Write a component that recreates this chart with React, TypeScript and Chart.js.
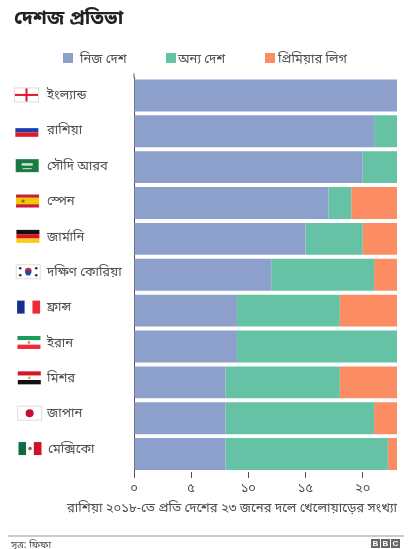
import { useEffect, useRef } from 'react';
import Chart from 'chart.js/auto';

const countries = ['ইংল্যান্ড', 'রাশিয়া', 'সৌদি আরব', 'স্পেন', 'জার্মানি', 'দক্ষিণ কোরিয়া', 'ফ্রান্স', 'ইরান', 'মিশর', 'জাপান', 'মেক্সিকো'];
const flagCodes = ['eng', 'rus', 'ksa', 'esp', 'ger', 'kor', 'fra', 'irn', 'egy', 'jpn', 'mex'];
const homeLeague = [23, 21, 20, 17, 15, 12, 9, 9, 8, 8, 8];
const otherLeague = [0, 2, 3, 2, 5, 9, 9, 14, 10, 13, 14.2];
const premierLeague = [0, 0, 0, 4, 3, 2, 5, 0, 5, 2, 0.8];
const seriesNames = ['নিজ দেশ', 'অন্য দেশ', 'প্রিমিয়ার লিগ'];
const seriesColors = ['#8DA0CB', '#66C2A5', '#FC8D62'];
const bengaliDigits = ['০', '১', '২', '৩', '৪', '৫', '৬', '৭', '৮', '৯'];
const caption = 'রাশিয়া ২০১৮-তে প্রতি দেশের ২৩ জনের দলে খেলোয়াড়ের সংখ্যা';

const FONT = '"Noto Sans", "Noto Sans Bengali", "Lohit Bengali", sans-serif';
const TEXT = '#505050';

function toBengali(n: number) {
  return String(n).split('').map(d => bengaliDigits[Number(d)]).join('');
}

function drawFlag(ctx: CanvasRenderingContext2D, code: string, x: number, y: number) {
  const w = 23;
  const h = 13;
  const stripesH = (cols: string[]) => cols.forEach((c, i) => {
    ctx.fillStyle = c;
    ctx.fillRect(x, y + (i * h) / cols.length, w, h / cols.length);
  });
  const stripesV = (cols: string[]) => cols.forEach((c, i) => {
    ctx.fillStyle = c;
    ctx.fillRect(x + (i * w) / cols.length, y, w / cols.length, h);
  });
  const dot = (c: string, dx: number, dy: number, r: number) => {
    ctx.fillStyle = c;
    ctx.beginPath();
    ctx.arc(x + dx, y + dy, r, 0, Math.PI * 2);
    ctx.fill();
  };
  if (code === 'eng' || code === 'jpn' || code === 'kor') {
    ctx.fillStyle = '#fff';
    ctx.fillRect(x, y, w, h);
    ctx.strokeStyle = '#ddd';
    ctx.lineWidth = 1;
    ctx.strokeRect(x - 0.5, y - 0.5, w + 1, h + 1);
  }
  if (code === 'eng') {
    ctx.fillStyle = '#e8112d';
    ctx.fillRect(x, y + h / 2 - 1, w, 2);
    ctx.fillRect(x + w / 2 - 1, y, 2, h);
  } else if (code === 'rus') {
    stripesH(['#fff', '#1f3fa8', '#e01a2b']);
  } else if (code === 'ksa') {
    ctx.fillStyle = '#1a7a43';
    ctx.fillRect(x, y, w, h);
    ctx.fillStyle = '#cfe3d6';
    ctx.fillRect(x + 6, y + 4, 11, 2.5);
    ctx.fillRect(x + 7, y + 9, 9, 1);
  } else if (code === 'esp') {
    stripesH(['#c8202f', '#f6c700', '#f6c700', '#c8202f']);
    dot('#a5502a', 7, 6.5, 1.6);
  } else if (code === 'ger') {
    stripesH(['#111', '#d8141e', '#fbcd11']);
  } else if (code === 'kor') {
    dot('#d9283c', 11.5, 5.8, 3.4);
    dot('#1f4da0', 11.5, 7.4, 2.8);
    ['3.5,3', '19.5,3', '3.5,10', '19.5,10'].forEach(p => {
      const [dx, dy] = p.split(',').map(Number);
      dot('#333', dx, dy, 1.3);
    });
  } else if (code === 'fra') {
    stripesV(['#14308f', '#fff', '#ef2b3a']);
  } else if (code === 'irn') {
    stripesH(['#1a9c5b', '#fff', '#ef2b3a']);
    dot('#e9808a', 11.5, 6.5, 1.4);
  } else if (code === 'egy') {
    stripesH(['#d3172b', '#fff', '#111']);
    dot('#e2b54a', 11.5, 6.5, 1.5);
  } else if (code === 'jpn') {
    dot('#c8102e', 11.5, 6.5, 4);
  } else if (code === 'mex') {
    stripesV(['#0f6b46', '#fff', '#cf1227']);
    dot('#7a6a45', 11.5, 6.5, 1.8);
  }
}

const countryAxisPlugin = {
  id: 'countryAxis',
  afterDraw(chart: any) {
    const { ctx, scales, chartArea } = chart;
    ctx.save();
    // axis line pokes a little above the first bar
    ctx.strokeStyle = '#555';
    ctx.lineWidth = 1;
    ctx.beginPath();
    ctx.moveTo(chartArea.left, chartArea.top - 4);
    ctx.lineTo(chartArea.left, chartArea.top);
    ctx.stroke();

    ctx.font = '13px ' + FONT;
    ctx.textBaseline = 'middle';
    ctx.textAlign = 'left';
    countries.forEach((name, i) => {
      // labels in the original sit slightly higher the further down they are
      const y = scales.y.getPixelForValue(i) - i * 0.5;
      drawFlag(ctx, flagCodes[i], 15 + i * 0.35, y - 7);
      ctx.fillStyle = TEXT;
      ctx.fillText(name, 47 + (i > 9 ? 1 : 0), y);
    });
    ctx.restore();
  }
};

export default function App() {
  const chartRef = useRef<HTMLCanvasElement>(null);

  useEffect(() => {
    if (!chartRef.current) return;
    const chart = new Chart(chartRef.current, {
      type: 'bar',
      data: {
        labels: countries,
        datasets: [
          { label: seriesNames[0], data: homeLeague, backgroundColor: seriesColors[0] },
          { label: seriesNames[1], data: otherLeague, backgroundColor: seriesColors[1] },
          { label: seriesNames[2], data: premierLeague, backgroundColor: seriesColors[2] }
        ]
      },
      plugins: [countryAxisPlugin],
      options: {
        indexAxis: 'y',
        responsive: false,
        animation: false,
        layout: { padding: { top: 77.5, right: 15, bottom: 33, left: 0 } },
        datasets: { bar: { categoryPercentage: 0.89, barPercentage: 1 } },
        scales: {
          x: {
            stacked: true,
            min: 0,
            max: 23,
            afterBuildTicks: scale => { scale.ticks = scale.ticks.filter(t => t.value % 5 === 0); },
            afterFit: scale => { scale.height = 44; },
            grid: { drawOnChartArea: false, drawTicks: true, tickLength: 6, color: '#555' },
            border: { display: false },
            ticks: {
              stepSize: 5,
              color: TEXT,
              font: { family: FONT, size: 13 },
              padding: 2,
              maxRotation: 0,
              callback: v => toBengali(Number(v))
            }
          },
          y: {
            stacked: true,
            grid: { display: false },
            border: { display: true, color: '#555', width: 1 },
            ticks: { display: false },
            afterFit: scale => { scale.width = 134; }
          }
        },
        plugins: {
          tooltip: { enabled: false },
          legend: { display: false }
        }
      }
    });
    return () => chart.destroy();
  }, []);

  const legendLefts = [63, 166, 265];
  const legendTextLefts = [80, 178, 278];

  return (
    <div style={{ position: 'absolute', left: 0, top: 0, width: 412, height: 549, background: '#fff', fontFamily: FONT }}>
      <canvas ref={chartRef} width={412} height={549} style={{ position: 'absolute', left: 0, top: 0 }} />
      <div style={{ position: 'absolute', left: 14, top: 3, fontSize: 19.5, fontWeight: 700, color: '#222' }}>দেশজ প্রতিভা</div>
      {seriesNames.map((name, i) => (
        <div key={name}>
          <div style={{ position: 'absolute', left: legendLefts[i], top: 53, width: 10, height: 10, background: seriesColors[i] }} />
          <div style={{ position: 'absolute', left: legendTextLefts[i], top: 48, fontSize: 13, lineHeight: '20px', color: TEXT, whiteSpace: 'nowrap' }}>{name}</div>
        </div>
      ))}
      <div style={{ position: 'absolute', right: 15, top: 497, fontSize: 13.1, lineHeight: '20px', color: TEXT, whiteSpace: 'nowrap' }}>{caption}</div>
      <div style={{ position: 'absolute', left: 8, top: 535, width: 396, height: 2, background: '#ccc' }} />
      <div style={{ position: 'absolute', left: 11, top: 537, fontSize: 10, color: TEXT }}>সূত্র: ফিফা</div>
      <div style={{ position: 'absolute', left: 371, top: 539, display: 'flex', gap: 1 }}>
        {['B', 'B', 'C'].map((l, i) => (
          <span key={i} style={{ width: 9, height: 9, background: '#666', color: '#fff', fontSize: 8, fontWeight: 700, lineHeight: '9px', textAlign: 'center', fontFamily: 'Arial, "Liberation Sans", sans-serif' }}>{l}</span>
        ))}
      </div>
    </div>
  );
}
